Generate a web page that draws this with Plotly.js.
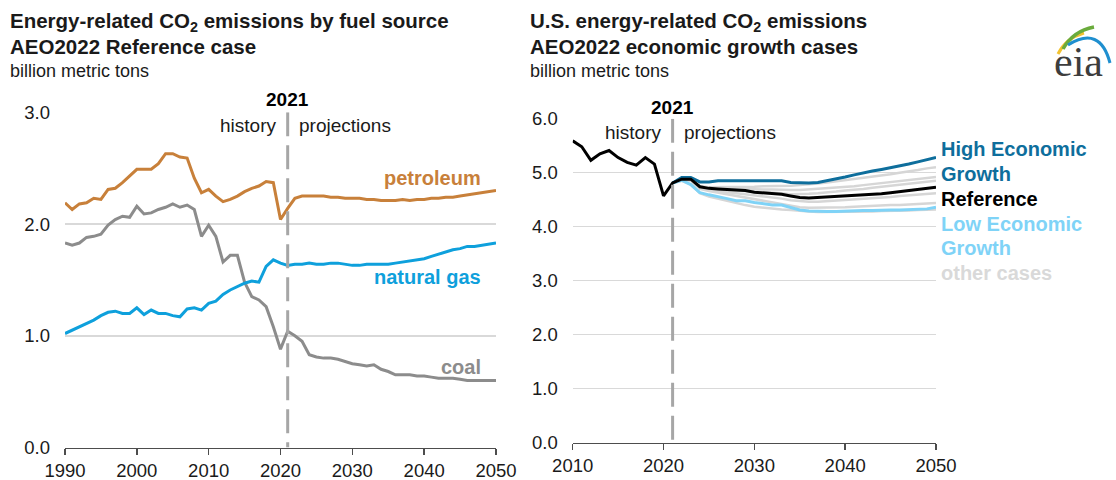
<!DOCTYPE html>
<html>
<head>
<meta charset="utf-8">
<script src="https://cdn.plot.ly/plotly-3.0.1.min.js"></script>
<style>
html,body{margin:0;padding:0;background:#fff;}
#chart{width:1116px;height:480px;}
</style>
</head>
<body>
<div id="chart"></div>
<script>
// ---------- DATA ----------
function range(a, b) { const r = []; for (let i = a; i <= b; i++) r.push(i); return r; }
const yearsFuel = range(1990, 2050);
const petroleum = [2.19,2.13,2.18,2.19,2.23,2.22,2.31,2.32,2.37,2.43,
  2.49,2.49,2.49,2.54,2.63,2.63,2.60,2.59,2.41,2.28,
  2.31,2.25,2.20,2.22,2.25,2.29,2.32,2.34,2.38,2.37,
  2.04,2.14,2.23,2.25,2.25,2.25,2.25,2.24,2.24,2.23,
  2.23,2.23,2.22,2.22,2.21,2.21,2.21,2.22,2.21,2.22,
  2.22,2.23,2.23,2.24,2.24,2.25,2.26,2.27,2.28,2.29,2.30];
const naturalGas = [1.02,1.05,1.08,1.11,1.14,1.18,1.21,1.22,1.20,1.20,
  1.25,1.19,1.23,1.20,1.20,1.18,1.17,1.24,1.25,1.23,
  1.29,1.31,1.37,1.41,1.44,1.47,1.49,1.48,1.62,1.68,
  1.65,1.63,1.64,1.64,1.65,1.64,1.64,1.65,1.65,1.64,
  1.63,1.63,1.64,1.64,1.64,1.64,1.65,1.66,1.67,1.68,
  1.69,1.71,1.73,1.75,1.77,1.78,1.80,1.80,1.81,1.82,1.83];
const coal = [1.83,1.81,1.83,1.88,1.89,1.91,1.99,2.04,2.07,2.06,
  2.16,2.09,2.10,2.13,2.15,2.18,2.15,2.17,2.13,1.89,
  1.99,1.89,1.66,1.72,1.72,1.48,1.35,1.32,1.26,1.08,
  0.88,1.04,1.00,0.95,0.83,0.81,0.80,0.80,0.79,0.77,
  0.75,0.74,0.73,0.74,0.70,0.68,0.65,0.65,0.65,0.64,
  0.64,0.63,0.62,0.62,0.62,0.61,0.60,0.60,0.60,0.60,0.60];

const yearsRef = range(2010, 2050);
const yearsProj = range(2021, 2050);
const reference = [5.59,5.48,5.23,5.35,5.41,5.28,5.19,5.14,5.28,5.16,4.57,4.81,
  4.88,4.88,4.74,4.71,4.70,4.69,4.67,4.67,4.64,4.63,
  4.62,4.60,4.57,4.54,4.53,4.54,4.54,4.56,4.57,4.57,
  4.59,4.60,4.61,4.63,4.65,4.67,4.69,4.71,4.73];
const highGrowth = [4.81,4.91,4.91,4.83,4.83,4.85,4.85,4.85,4.85,4.85,
  4.84,4.84,4.85,4.82,4.81,4.81,4.82,4.85,4.89,4.92,
  4.96,5.00,5.03,5.06,5.09,5.12,5.16,5.20,5.24,5.28];
const lowGrowth = [4.81,4.86,4.78,4.63,4.59,4.56,4.52,4.48,4.48,4.45,
  4.42,4.40,4.40,4.36,4.31,4.29,4.28,4.28,4.28,4.29,
  4.30,4.30,4.30,4.31,4.31,4.31,4.32,4.32,4.33,4.36];
const otherCase1 = [4.81,4.88,4.87,4.75,4.73,4.73,4.73,4.73,4.74,4.74,
  4.75,4.75,4.76,4.76,4.77,4.78,4.80,4.82,4.84,4.86,
  4.88,4.90,4.92,4.95,4.97,5.00,5.02,5.05,5.08,5.10];
const otherCase2 = [4.81,4.88,4.87,4.74,4.72,4.71,4.70,4.70,4.70,4.69,
  4.69,4.69,4.68,4.68,4.68,4.69,4.70,4.71,4.72,4.73,
  4.75,4.77,4.79,4.81,4.83,4.85,4.87,4.89,4.90,4.92];
const otherCase3 = [4.81,4.88,4.87,4.73,4.70,4.69,4.68,4.67,4.67,4.65,
  4.64,4.63,4.62,4.60,4.60,4.61,4.62,4.63,4.65,4.67,
  4.68,4.70,4.72,4.74,4.76,4.78,4.80,4.82,4.83,4.85];
const otherCase4 = [4.81,4.87,4.86,4.71,4.68,4.66,4.64,4.62,4.61,4.58,
  4.56,4.54,4.52,4.49,4.47,4.46,4.46,4.47,4.48,4.49,
  4.50,4.51,4.52,4.54,4.55,4.57,4.58,4.59,4.60,4.62];
const otherCase5 = [4.81,4.87,4.85,4.70,4.66,4.63,4.60,4.57,4.54,4.51,
  4.48,4.45,4.42,4.39,4.36,4.35,4.35,4.35,4.36,4.36,
  4.37,4.38,4.38,4.39,4.40,4.40,4.41,4.42,4.43,4.44];
const otherCase6 = [4.81,4.85,4.78,4.62,4.56,4.52,4.48,4.43,4.40,4.37,
  4.35,4.33,4.32,4.31,4.29,4.28,4.27,4.27,4.27,4.27,
  4.28,4.28,4.28,4.29,4.29,4.30,4.30,4.31,4.31,4.32];
const otherCases = [otherCase1, otherCase2, otherCase3, otherCase4, otherCase5, otherCase6];

const xTicksFuel = [1990,2000,2010,2020,2030,2040,2050];
const xTicksGrowth = [2010,2020,2030,2040,2050];
const lastHistoryYear = 2021;

// ---------- LAYOUT HELPERS ----------
const W = 1116, H = 480;
const px = x => x / W;
const py = y => 1 - y / H;
const FONT = 'Liberation Sans, Arial, sans-serif';
const C = {
  petroleum: '#c8803a', gas: '#0ea0dc', coal: '#8c8c8c',
  high: '#0e6e9c', low: '#7fd3f7', ref: '#000000', other: '#d6d6d6',
  dash: '#a6a6a6', grid: '#d9d9d9', axis: '#4d4d4d', text: '#1a1a1a'
};

const traces = [];
function line(x, y, color, xa, ya, width) {
  traces.push({x: x, y: y, type: 'scatter', mode: 'lines', xaxis: xa, yaxis: ya,
    line: {color: color, width: width || 3}, hoverinfo: 'skip', showlegend: false});
}
line(yearsFuel, coal, C.coal, 'x', 'y');
line(yearsFuel, naturalGas, C.gas, 'x', 'y');
line(yearsFuel, petroleum, C.petroleum, 'x', 'y');
otherCases.forEach(s => line(yearsProj, s, C.other, 'x2', 'y2', 2.5));
line(yearsProj, lowGrowth, C.low, 'x2', 'y2', 3);
line(yearsProj, highGrowth, C.high, 'x2', 'y2', 3);
line(yearsRef, reference, C.ref, 'x2', 'y2', 3);

const xaxisBase = {
  showgrid: false, zeroline: false, showline: true, linecolor: C.axis, linewidth: 1.5,
  ticks: 'outside', ticklen: 6, tickwidth: 1.5, tickcolor: C.axis,
  tickfont: {family: FONT, size: 18.5, color: C.text}, ticklabelstandoff: 0,
  fixedrange: true
};
const yaxisBase = {
  showgrid: true, gridcolor: C.grid, gridwidth: 1.5, zeroline: false, showline: false,
  ticks: '', tickformat: '.1f', dtick: 1,
  tickfont: {family: FONT, size: 18.5, color: C.text}, ticklabelstandoff: 14,
  fixedrange: true
};

const annotations = [];
function ann(text, x, y, opts) {
  annotations.push(Object.assign({text: text, x: x, y: y, xref: 'paper', yref: 'paper',
    showarrow: false, font: {family: FONT, size: 19, color: C.text},
    xanchor: 'left', yanchor: 'middle'}, opts || {}));
}
// titles
const TF = {family: FONT, size: 20.5, color: C.text};
ann('<b>Energy-related CO<sub>2</sub> emissions by fuel source</b>', px(8), py(22), {font: TF});
ann('<b>AEO2022 Reference case</b>', px(8), py(47), {font: TF});
ann('billion metric tons', px(8), py(71), {font: {family: FONT, size: 18, color: C.text}});
ann('<b>U.S. energy-related CO<sub>2</sub> emissions</b>', px(528), py(22), {font: TF});
ann('<b>AEO2022 economic growth cases</b>', px(528), py(47), {font: TF});
ann('billion metric tons', px(528), py(71), {font: {family: FONT, size: 18, color: C.text}});

// 2021 / history / projections
function marker(xa, yTop, yHist) {
  annotations.push({text: '<b>' + lastHistoryYear + '</b>', x: lastHistoryYear, xref: xa, y: py(yTop), yref: 'paper',
    showarrow: false, xanchor: 'center', yanchor: 'middle', font: {family: FONT, size: 19, color: '#000'}});
  annotations.push({text: 'history', x: lastHistoryYear, xref: xa, xshift: -10, y: py(yHist), yref: 'paper',
    showarrow: false, xanchor: 'right', yanchor: 'middle', font: {family: FONT, size: 19, color: C.text}});
  annotations.push({text: 'projections', x: lastHistoryYear, xref: xa, xshift: 9, y: py(yHist), yref: 'paper',
    showarrow: false, xanchor: 'left', yanchor: 'middle', font: {family: FONT, size: 19, color: C.text}});
}
marker('x', 99, 125);
marker('x2', 108, 132);

// series labels
const bold = (c) => ({family: FONT, size: 20, color: c});
ann('<b>petroleum</b>', px(483), py(178), {xanchor: 'right', font: bold(C.petroleum)});
ann('<b>natural gas</b>', px(483), py(277), {xanchor: 'right', font: bold(C.gas)});
ann('<b>coal</b>', px(483), py(367), {xanchor: 'right', font: bold(C.coal)});
ann('<b>High Economic</b>', px(939), py(149), {font: bold(C.high)});
ann('<b>Growth</b>', px(939), py(174), {font: bold(C.high)});
ann('<b>Reference</b>', px(939), py(199), {font: bold('#000')});
ann('<b>Low Economic</b>', px(939), py(224), {font: bold(C.low)});
ann('<b>Growth</b>', px(939), py(248), {font: bold(C.low)});
ann('<b>other cases</b>', px(939), py(273), {font: bold('#d9d9d9')});

// eia logo text
ann('eia', px(1078), py(62), {xanchor: 'center', font: {family: 'Liberation Serif, DejaVu Serif, serif', size: 42, color: '#3d3d3d'}});

function arc(points, color, width) {
  const p = points.map((q, i) => (i === 0 ? 'M ' : (i === 1 ? 'Q ' : '')) + px(q[0]) + ',' + py(q[1])).join(' ');
  return {type: 'path', xref: 'paper', yref: 'paper', path: p, line: {color: color, width: width}, layer: 'above'};
}

const shapes = [
  {type: 'line', xref: 'x', yref: 'y', x0: lastHistoryYear, x1: lastHistoryYear, y0: 3, y1: 0,
   line: {color: C.dash, width: 3, dash: '24px,9px'}, layer: 'above'},
  {type: 'line', xref: 'x2', yref: 'y2', x0: lastHistoryYear, x1: lastHistoryYear, y0: 6, y1: 0,
   line: {color: C.dash, width: 3, dash: '24px,9px'}, layer: 'above'},
  arc([[1058, 54], [1066, 38], [1084, 33]], '#f2c230', 3),
  arc([[1063, 49], [1073, 31], [1094, 27]], '#6aab3c', 3.5),
  arc([[1068, 45], [1100, 25], [1110, 63]], '#1f8fcf', 3)
];

const layout = {
  width: W, height: H,
  margin: {l: 0, r: 0, t: 0, b: 0},
  paper_bgcolor: '#fff', plot_bgcolor: 'rgba(0,0,0,0)',
  showlegend: false,
  xaxis: Object.assign({}, xaxisBase, {domain: [px(65), px(496)], range: [1990, 2050], tickvals: xTicksFuel, anchor: 'y'}),
  yaxis: Object.assign({}, yaxisBase, {domain: [py(447.5), py(112.3)], range: [0, 3], anchor: 'x'}),
  xaxis2: Object.assign({}, xaxisBase, {domain: [px(572.7), px(936)], range: [2010, 2050], tickvals: xTicksGrowth, anchor: 'y2'}),
  yaxis2: Object.assign({}, yaxisBase, {domain: [py(442.7), py(118.7)], range: [0, 6], anchor: 'x2'}),
  annotations: annotations,
  shapes: shapes
};

Plotly.newPlot('chart', traces, layout, {displayModeBar: false, staticPlot: true});
</script>
</body>
</html>
